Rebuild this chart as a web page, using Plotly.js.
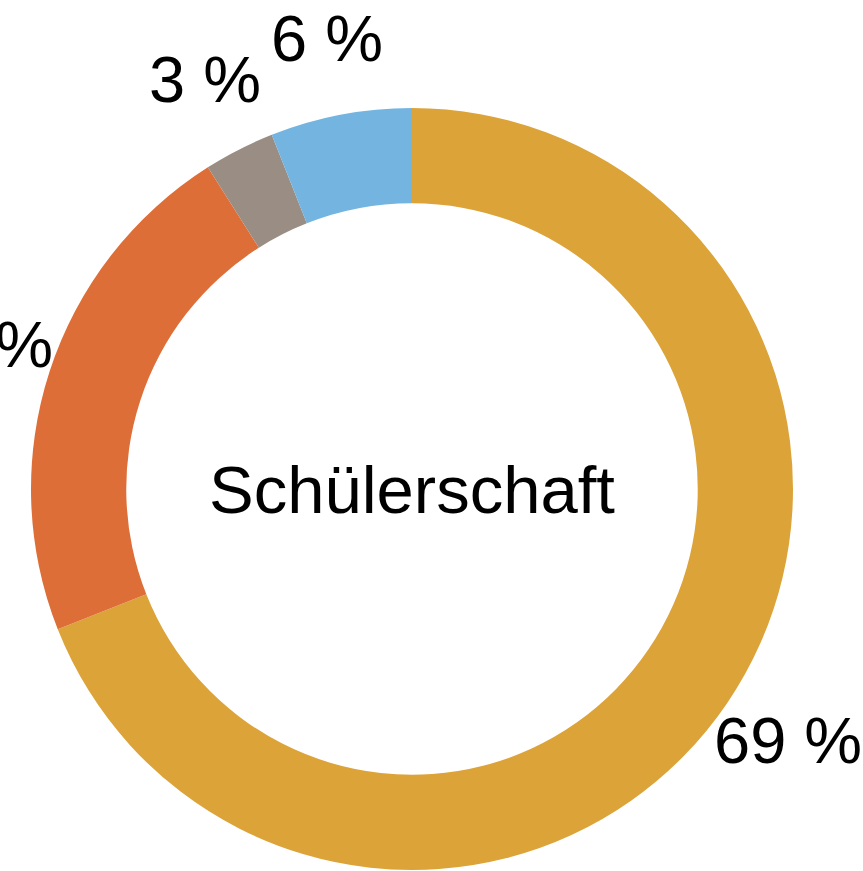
<!DOCTYPE html>
<html>
<head>
<meta charset="utf-8">
<script src="https://cdn.plot.ly/plotly-3.0.1.min.js"></script>
<style>
  html, body { margin: 0; padding: 0; background: #fff; }
  #chart { width: 863px; height: 871px; }
</style>
</head>
<body>
<div id="chart"></div>
<script>
// Anteile der Schülerschaft (im Uhrzeigersinn ab 12 Uhr)
const labels = ['A', 'B', 'C', 'D'];
const values = [69, 22, 3, 6];
const colors = ['#DCA339', '#DE6E38', '#9A8E84', '#74B4E0'];
const centerText = 'Schülerschaft';

const FONT = 'Liberation Sans, Arial, Helvetica, sans-serif';
const LABEL_R = 0.597;   // Abstand der Prozentwerte vom Mittelpunkt (Papier-Einheiten)

// Prozentwerte aussen, mittig auf dem Winkel des jeweiligen Segments
const total = values.reduce((s, v) => s + v, 0);
let cum = 0;
const valueLabels = values.map(v => {
    const mid = (cum + v / 2) / total * 2 * Math.PI;
    cum += v;
    return {
        xref: 'paper', yref: 'paper',
        x: 0.5 + LABEL_R * Math.sin(mid),
        y: 0.5 + LABEL_R * Math.cos(mid),
        xanchor: 'center', yanchor: 'middle',
        yshift: 4,
        text: v + ' %',
        showarrow: false,
        font: { family: FONT, size: 65, color: '#000' }
    };
});

// Beschriftung in der Mitte des Rings
valueLabels.push({
    xref: 'paper', yref: 'paper',
    x: 0.5, y: 0.5,
    xanchor: 'center', yanchor: 'middle',
    text: centerText,
    showarrow: false,
    font: { family: FONT, size: 67, color: '#000' }
});

const trace = {
    type: 'pie',
    labels: labels,
    values: values,
    hole: 0.75,
    sort: false,
    direction: 'clockwise',
    rotation: 0,
    marker: { colors: colors, line: { width: 0 } },
    textinfo: 'none',
    automargin: false,
    hoverinfo: 'none'
};

Plotly.newPlot('chart', [trace], {
    width: 863,
    height: 871,
    margin: { l: 31, r: 70, t: 108, b: 1 },
    showlegend: false,
    paper_bgcolor: '#fff',
    annotations: valueLabels
}, { staticPlot: true });
</script>
</body>
</html>
